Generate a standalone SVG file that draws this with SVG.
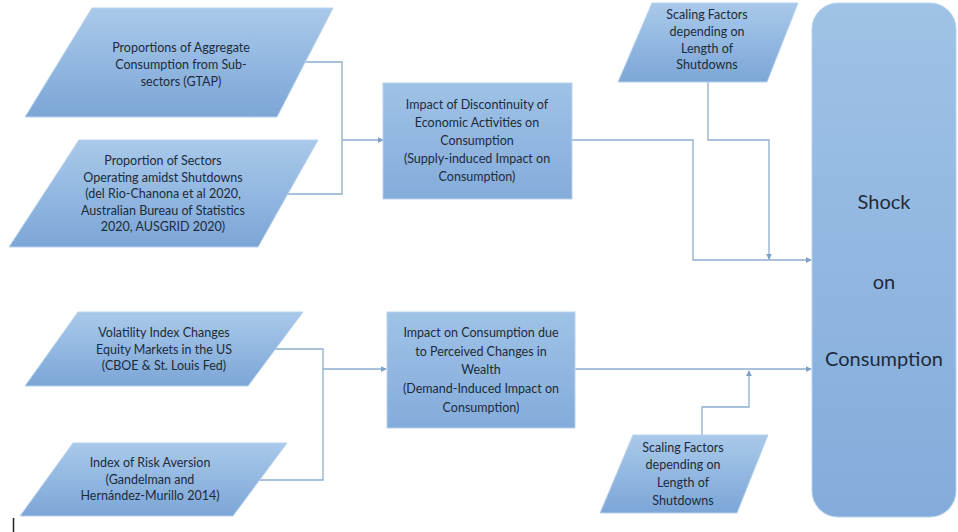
<svg xmlns="http://www.w3.org/2000/svg" width="958" height="532" viewBox="0 0 958 532">
<defs>
<linearGradient id="g" x1="0" y1="0" x2="0" y2="1">
<stop offset="0" stop-color="#a9c9ea"/>
<stop offset="1" stop-color="#7ca6d7"/>
</linearGradient>
<linearGradient id="gb" x1="0" y1="0" x2="0" y2="1">
<stop offset="0" stop-color="#9fc2e6"/>
<stop offset="1" stop-color="#84acdb"/>
</linearGradient>
<marker id="a" viewBox="0 0 8 8" refX="7" refY="4" markerWidth="6" markerHeight="6" markerUnits="userSpaceOnUse" orient="auto">
<path d="M0,0 L8,4 L0,8 z" fill="#7f9fc4"/>
</marker>
<style>
.s{fill:url(#g);stroke:#b9d2ec;stroke-width:1}
.t{font-family:Lato,"Open Sans","Liberation Sans",sans-serif;font-size:12.5px;fill:#1d2b3b;text-anchor:middle}
.big{font-family:Lato,"Open Sans","Liberation Sans",sans-serif;font-size:20px;fill:#1d2b3b;text-anchor:middle}
.c{fill:none;stroke:#8eadd0;stroke-width:1.3}
</style>
</defs>
<rect width="958" height="532" fill="#ffffff"/>
<g id="connectors">
<polyline class="c" points="305,62 342,62 342,194 287,194"/>
<polyline class="c" points="342,140 383,140" marker-end="url(#a)"/>
<polyline class="c" points="572,140 693,140 693,260 811,260" marker-end="url(#a)"/>
<polyline class="c" points="708,82 708,140 769,140 769,259" marker-end="url(#a)"/>
<polyline class="c" points="275,349 323,349 323,480 260,480"/>
<polyline class="c" points="323,369 386,369" marker-end="url(#a)"/>
<polyline class="c" points="575,369 811,369" marker-end="url(#a)"/>
<polyline class="c" points="702,435 702,407 749,407 749,371" marker-end="url(#a)"/>
</g>
<g id="n-proportions-aggregate">
<polygon class="s" points="92,8 333,8 277,117 25,117"/>
<text class="t"><tspan x="181" y="52">Proportions of Aggregate</tspan><tspan x="181" y="69">Consumption from Sub-</tspan><tspan x="181" y="86">sectors (GTAP)</tspan></text>
</g>
<g id="n-proportion-sectors">
<polygon class="s" points="79,140 318,140 258,247 9,247"/>
<text class="t"><tspan x="163" y="165">Proportion of Sectors</tspan><tspan x="163" y="181.5">Operating amidst Shutdowns</tspan><tspan x="163" y="198">(del Rio-Chanona et al 2020,</tspan><tspan x="163" y="214.5">Australian Bureau of Statistics</tspan><tspan x="163" y="231">2020, AUSGRID 2020)</tspan></text>
</g>
<g id="n-supply-impact">
<rect x="383" y="83" width="189" height="116" fill="url(#gb)" stroke="#b9d2ec"/>
<text class="t"><tspan x="477" y="109">Impact of Discontinuity of</tspan><tspan x="477" y="127">Economic Activities on</tspan><tspan x="477" y="145">Consumption</tspan><tspan x="477" y="163">(Supply-induced Impact on</tspan><tspan x="477" y="181">Consumption)</tspan></text>
</g>
<g id="n-scaling-top">
<polygon class="s" points="652,3 798,3 767,82 618,82"/>
<text class="t"><tspan x="707" y="19">Scaling Factors</tspan><tspan x="707" y="36">depending on</tspan><tspan x="707" y="52.5">Length of</tspan><tspan x="707" y="69">Shutdowns</tspan></text>
</g>
<g id="n-volatility">
<polygon class="s" points="78,312 303,312 248,386 25,386"/>
<text class="t"><tspan x="164" y="337">Volatility Index Changes</tspan><tspan x="164" y="353.5">Equity Markets in the US</tspan><tspan x="164" y="370">(CBOE &amp; St. Louis Fed)</tspan></text>
</g>
<g id="n-risk-aversion">
<polygon class="s" points="73,443 287,443 233,516 20,516"/>
<text class="t"><tspan x="150" y="467">Index of Risk Aversion</tspan><tspan x="150" y="483.5">(Gandelman and</tspan><tspan x="150" y="500">Hernández-Murillo 2014)</tspan></text>
</g>
<g id="n-demand-impact">
<rect x="387" y="312" width="188" height="116" fill="url(#gb)" stroke="#b9d2ec"/>
<text class="t"><tspan x="481" y="337">Impact on Consumption due</tspan><tspan x="481" y="356">to Perceived Changes in</tspan><tspan x="481" y="374">Wealth</tspan><tspan x="481" y="393">(Demand-Induced Impact on</tspan><tspan x="481" y="412">Consumption)</tspan></text>
</g>
<g id="n-scaling-bottom">
<polygon class="s" points="633,435 768,435 737,513 600,513"/>
<text class="t"><tspan x="683" y="452">Scaling Factors</tspan><tspan x="683" y="469">depending on</tspan><tspan x="683" y="487">Length of</tspan><tspan x="683" y="505">Shutdowns</tspan></text>
</g>
<g id="n-shock">
<rect x="812" y="3" width="144" height="514" rx="26" ry="26" fill="url(#gb)" stroke="#b9d2ec"/>
<text class="big"><tspan x="884" y="209">Shock</tspan><tspan x="884" y="289">on</tspan><tspan x="884" y="366">Consumption</tspan></text>
</g>
<line x1="13.5" y1="518" x2="13.5" y2="532" stroke="#222" stroke-width="1.5"/>
</svg>
